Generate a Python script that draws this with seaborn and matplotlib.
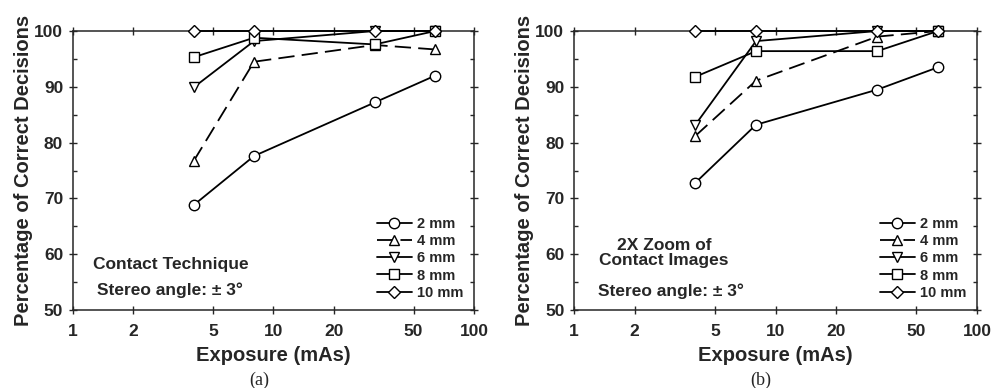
import numpy as np
import pandas as pd
import matplotlib.pyplot as plt
import seaborn as sns
from matplotlib.ticker import FixedLocator, NullLocator, MultipleLocator

# exposure values (mAs)
exposure = [4, 8, 32, 64]
sizes = ['2 mm', '4 mm', '6 mm', '8 mm', '10 mm']

# (a) contact technique
contact = {
    '2 mm': [68.8, 77.6, 87.2, 92.0],
    '4 mm': [76.7, 94.5, 97.5, 96.7],
    '6 mm': [89.9, 98.2, 100.0, 100.0],
    '8 mm': [95.3, 98.8, 97.6, 100.0],
    '10 mm': [100.0, 100.0, 100.0, 100.0],
}

# (b) 2X zoom of contact images
zoom2x = {
    '2 mm': [72.8, 83.2, 89.5, 93.5],
    '4 mm': [81.2, 91.1, 99.0, 100.0],
    '6 mm': [83.2, 98.2, 100.0, 100.0],
    '8 mm': [91.8, 96.4, 96.4, 100.0],
    '10 mm': [100.0, 100.0, 100.0, 100.0],
}

markers = {'2 mm': 'o', '4 mm': '^', '6 mm': 'v', '8 mm': 's', '10 mm': 'D'}
msizes = {'2 mm': 7.5, '4 mm': 7.5, '6 mm': 7.5, '8 mm': 6.5, '10 mm': 6.5}
styles = {'2 mm': '-', '4 mm': (0, (9, 4)), '6 mm': '-', '8 mm': '-', '10 mm': '-'}

sns.set_style("ticks")
plt.rcParams['font.family'] = ['Liberation Sans', 'DejaVu Sans']
plt.rcParams['font.weight'] = 'bold'

fig = plt.figure(figsize=(9.94, 3.88), dpi=100)
ax1 = fig.add_axes([0.0734, 0.201, 0.4034, 0.719])
ax2 = fig.add_axes([0.5775, 0.201, 0.4054, 0.719])


def draw(ax, data):
    for s in sizes:
        df = pd.DataFrame({'exposure': exposure, 'pct': data[s]})
        sns.lineplot(data=df, x='exposure', y='pct', ax=ax, color='black',
                     marker=markers[s], markersize=msizes[s], markerfacecolor='white',
                     markeredgecolor='black', markeredgewidth=1.0, linewidth=1.3,
                     linestyle=styles[s], label=s, clip_on=False, zorder=3)
    ax.set_xscale('log')
    ax.set_xlim(1, 100)
    ax.set_ylim(50, 100)
    ax.xaxis.set_major_locator(FixedLocator([1, 2, 5, 10, 20, 50, 100]))
    ax.xaxis.set_minor_locator(NullLocator())
    ax.set_xticklabels(['1', '2', '5', '10', '20', '50', '100'])
    ax.yaxis.set_major_locator(MultipleLocator(10))
    ax.yaxis.set_minor_locator(MultipleLocator(5))
    ax.tick_params(which='major', direction='inout', length=6, width=1,
                   top=True, right=True, labelsize=12.5)
    ax.tick_params(axis='x', which='major', pad=7)
    ax.tick_params(axis='y', which='major', pad=4)
    ax.tick_params(which='minor', direction='in', length=3, width=1,
                   top=True, right=True)
    for sp in ax.spines.values():
        sp.set_linewidth(1.1)
    ax.set_xlabel('Exposure (mAs)', fontsize=14.5, fontweight='bold', labelpad=5)
    ax.set_ylabel('Percentage of Correct Decisions', fontsize=14.5,
                  fontweight='bold', labelpad=1)
    ax.legend(loc='lower right', frameon=False, fontsize=10.5, handlelength=2.4,
              handletextpad=0.4, labelspacing=0.22, borderaxespad=0.3)


draw(ax1, contact)
draw(ax2, zoom2x)

ax1.text(0.05, 0.163, 'Contact Technique', transform=ax1.transAxes,
         fontsize=12.5, fontweight='bold', ha='left', va='center')
ax1.text(0.06, 0.072, 'Stereo angle: \u00b1 3\u00b0', transform=ax1.transAxes,
         fontsize=12.5, fontweight='bold', ha='left', va='center')

ax2.text(0.223, 0.205, '2X Zoom of\nContact Images', transform=ax2.transAxes,
         fontsize=12.5, fontweight='bold', ha='center', va='center',
         linespacing=1.05)
ax2.text(0.06, 0.067, 'Stereo angle: \u00b1 3\u00b0', transform=ax2.transAxes,
         fontsize=12.5, fontweight='bold', ha='left', va='center')

fig.text(0.261, 0.02, '(a)', family='Liberation Serif', fontsize=13,
         fontweight='normal', ha='center', va='center')
fig.text(0.765, 0.02, '(b)', family='Liberation Serif', fontsize=13,
         fontweight='normal', ha='center', va='center')

plt.savefig('out.png', dpi=100)
plt.close()
